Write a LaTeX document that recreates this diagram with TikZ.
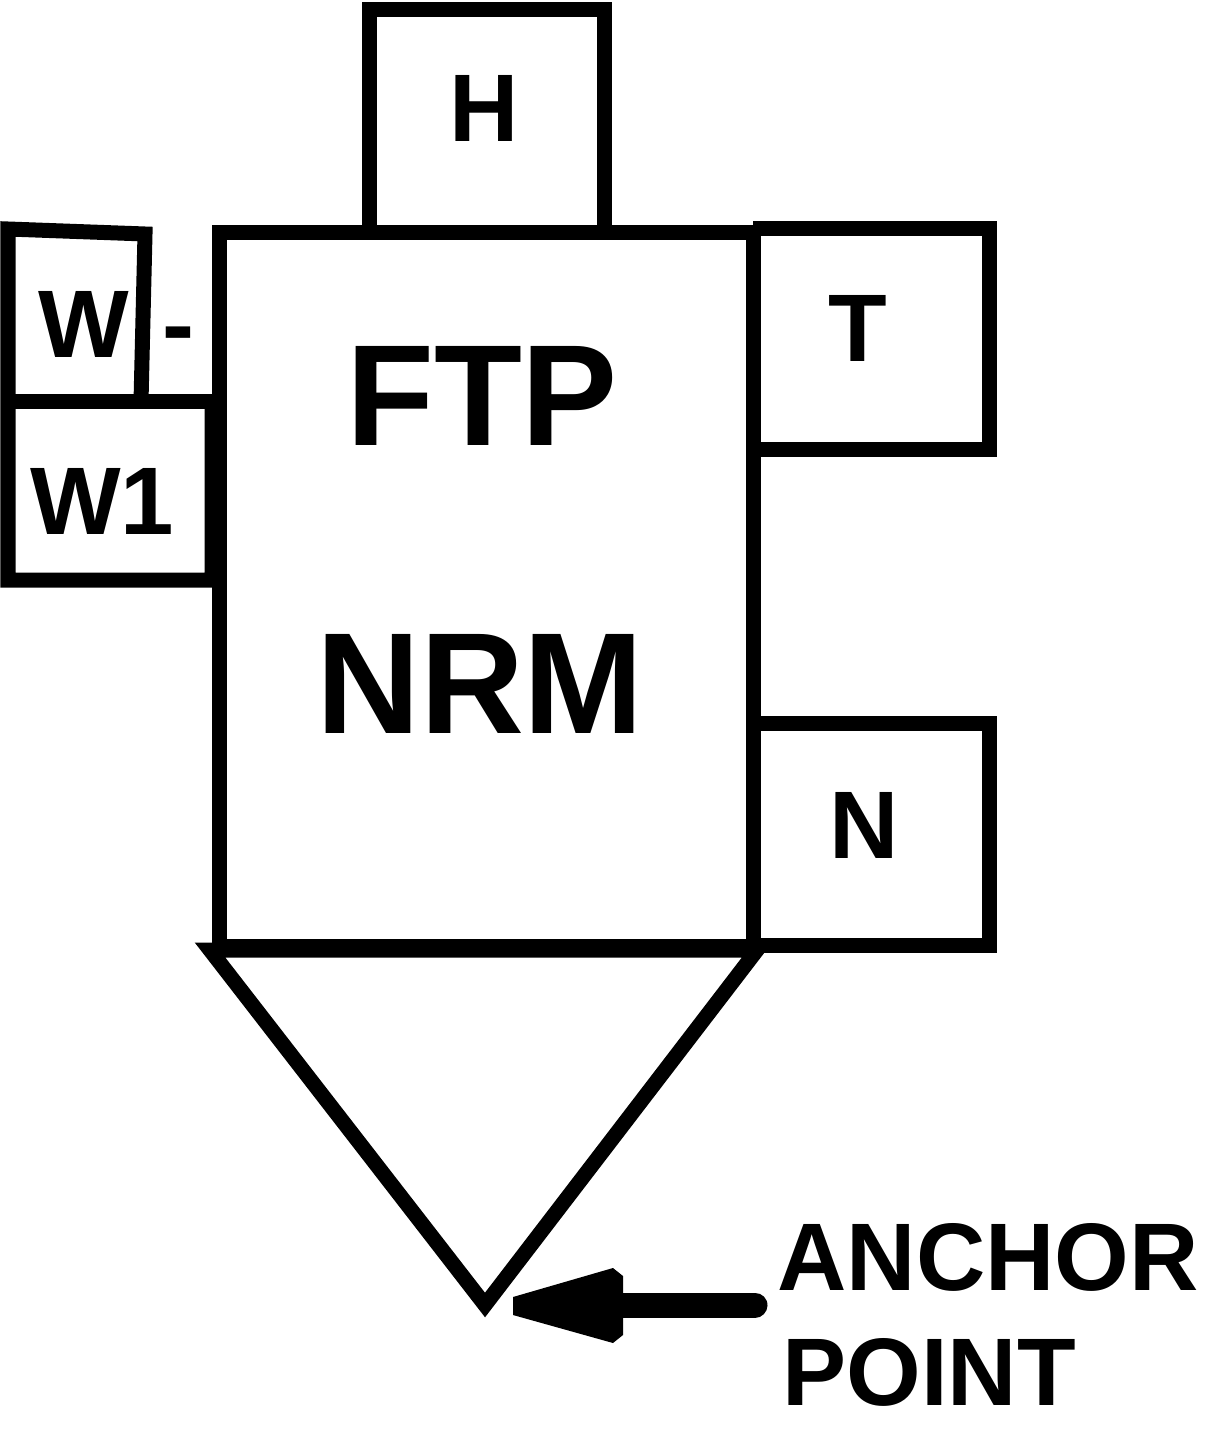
\documentclass[tikz,border=0pt]{standalone}
\usepackage{fontspec}
\setmainfont{Liberation Sans}
\begin{document}
\begin{tikzpicture}[x=0.5pt,y=-0.5pt,line width=7.5pt,line join=miter,
  lbl/.style={font=\fontsize{48}{50}\selectfont\bfseries,inner sep=0pt},
  big/.style={font=\fontsize{72}{74}\selectfont\bfseries,inner sep=0pt},
  shaft/.style={line width=12.5pt,line cap=round}]
\useasboundingbox (0,0) rectangle (1213,1443);
% main box
\draw (219,233) rectangle (753,946);
% H box
\draw (369,233) -- (369,10) -- (604,10) -- (604,233);
% T box
\draw (753,229) -- (989,229) -- (989,449) -- (753,449);
% N box
\draw (753,723) -- (989,723) -- (989,945) -- (753,945);
% W- box
\draw (141,402) -- (145,234) -- (8,229) -- (8,580) -- (212,580) -- (212,402);
\draw (8,402) -- (219,402);
% cone
\draw (210,950) -- (485,1305) -- (757,950) -- cycle;
% labels
\node[lbl,anchor=base] (H) at (484,142) {H};
\node[lbl,anchor=base] (T) at (858,362) {T};
\node[lbl,anchor=base] (N) at (864,858) {N};
\node[lbl,anchor=base] (W) at (84,358) {W};
\node[lbl,anchor=base west] (minus) at (155,358) {-};
\node[lbl,anchor=base] (W1) at (102,534) {W1};
\node[big,anchor=base] (FTP) at (482,445) {FTP};
\node[big,anchor=base] (NRM) at (480,733) {NRM};
\node[lbl,anchor=base west] (anchor) at (770,1290) {ANCHOR};
\node[lbl,anchor=base west] (point) at (775,1405) {POINT};
% arrow
\coordinate (tip) at (513,1306);
\coordinate (tail) at (755,1305);
\draw[shaft] (tail) -- (618,1305);
\fill (tip) -- (513,1297) -- (613,1268) -- (623,1276) -- (623,1335) -- (613,1343) -- (513,1315) -- cycle;
\end{tikzpicture}
\end{document}
